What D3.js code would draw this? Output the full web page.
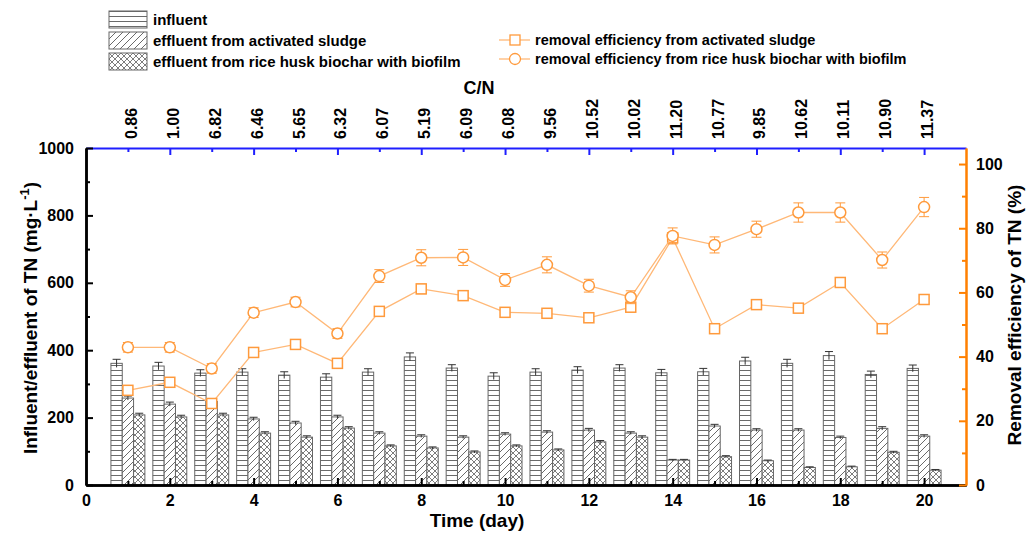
<!DOCTYPE html>
<html>
<head>
<meta charset="utf-8">
<script src="https://cdn.jsdelivr.net/npm/d3@7"></script>
<style>
  body { margin: 0; background: #fff; }
  svg { font-family: "Liberation Sans", Arial, sans-serif; }
  .tick text { font-weight: bold; fill: #000; }
</style>
</head>
<body>
<svg id="chart" width="1026" height="534"></svg>
<script>
// data
const days = d3.range(1, 21);
const cnLabels = ['0.86', '1.00', '6.82', '6.46', '5.65', '6.32', '6.07', '5.19', '6.09', '6.08',
  '9.56', '10.52', '10.02', '11.20', '10.77', '9.85', '10.62', '10.11', '10.90', '11.37'];
const influent = [361, 353, 332, 335, 326, 320, 335, 380, 347, 323, 335, 341, 347, 333, 336, 368, 361, 384, 328, 346];
const influentErr = [12, 11, 10, 10, 10, 10, 10, 12, 10, 10, 10, 10, 10, 10, 10, 11, 12, 12, 10, 10];
const effluentAS = [258, 240, 248, 196, 184, 202, 154, 145, 142, 151, 157, 163, 154, 74, 175, 163, 163, 141, 168, 145];
const effluentASErr = [6, 6, 6, 5, 5, 5, 4, 4, 4, 4, 4, 5, 4, 2, 5, 4, 4, 4, 5, 4];
const effluentBio = [208, 202, 208, 154, 142, 169, 116, 110, 98, 116, 104, 128, 142, 74, 84, 72, 52, 54, 97, 44];
const effluentBioErr = [5, 5, 5, 4, 4, 4, 3, 3, 3, 3, 3, 4, 4, 2, 3, 2, 2, 2, 3, 2];
const removalAS = [29.5, 32.0, 25.4, 41.3, 43.8, 37.9, 54.1, 61.1, 59.0, 53.8, 53.5, 52.1, 55.4, 77.0, 48.7, 56.2, 55.1, 63.1, 48.7, 57.8];
const removalASErr = [1.2, 1.2, 1.2, 1.2, 1.2, 1.2, 1.2, 1.5, 1.5, 1.2, 1.2, 1.2, 1.5, 1.5, 1.2, 1.2, 1.2, 1.5, 1.2, 1.5];
const removalBio = [42.9, 42.9, 36.3, 53.7, 57.0, 47.2, 65.1, 70.8, 70.9, 63.9, 68.6, 62.1, 58.5, 77.6, 74.8, 79.7, 84.9, 84.9, 70.1, 86.6];
const removalBioErr = [1.5, 1.5, 1.5, 1.5, 1.5, 1.5, 2, 2.5, 2.5, 2, 2.5, 2, 2, 2.5, 2.5, 2.5, 3, 3, 2.5, 3];
const xTicks = d3.range(0, 21, 2);
const leftTicks = [0, 200, 400, 600, 800, 1000];
const rightTicks = [0, 20, 40, 60, 80, 100];

const orange = '#ff9a3c';
const orangeLine = '#ffb877';

const svg = d3.select('#chart');
const plotL = 86, plotR = 966, plotT = 148, plotB = 485;

const x = d3.scaleLinear().domain([0, 21]).range([plotL, plotR]);
const yL = d3.scaleLinear().domain([0, 1000]).range([plotB, plotT]);
const yR = d3.scaleLinear().domain([0, 105]).range([plotB, plotT]);

// hatch patterns
const defs = svg.append('defs');
const pHoriz = defs.append('pattern').attr('id', 'p-horiz')
  .attr('patternUnits', 'userSpaceOnUse').attr('width', 8).attr('height', 5);
pHoriz.append('rect').attr('width', 8).attr('height', 5).attr('fill', '#fff');
pHoriz.append('line').attr('x1', 0).attr('x2', 8).attr('y1', 0.5).attr('y2', 0.5)
  .attr('stroke', '#444').attr('stroke-width', 0.8);

const pDiag = defs.append('pattern').attr('id', 'p-diag')
  .attr('patternUnits', 'userSpaceOnUse').attr('width', 7).attr('height', 7);
pDiag.append('rect').attr('width', 7).attr('height', 7).attr('fill', '#fff');
pDiag.append('path').attr('d', 'M-1,8 L8,-1 M-1,1 L1,-1 M6,8 L8,6')
  .attr('stroke', '#444').attr('stroke-width', 0.8);

const pCross = defs.append('pattern').attr('id', 'p-cross')
  .attr('patternUnits', 'userSpaceOnUse').attr('width', 6).attr('height', 6);
pCross.append('rect').attr('width', 6).attr('height', 6).attr('fill', '#fff');
pCross.append('path').attr('d', 'M-1,7 L7,-1 M-1,-1 L7,7')
  .attr('stroke', '#444').attr('stroke-width', 0.7);

// bars
const barW = x(0.27) - x(0);
const series = [
  { values: influent, err: influentErr, offset: -0.27, fill: 'url(#p-horiz)' },
  { values: effluentAS, err: effluentASErr, offset: 0, fill: 'url(#p-diag)' },
  { values: effluentBio, err: effluentBioErr, offset: 0.27, fill: 'url(#p-cross)' }
];

series.forEach(s => {
  const g = svg.append('g');
  g.selectAll('rect').data(days).join('rect')
    .attr('x', (d, i) => x(d + s.offset) - barW / 2)
    .attr('y', (d, i) => yL(s.values[i]))
    .attr('width', barW)
    .attr('height', (d, i) => yL(0) - yL(s.values[i]))
    .attr('fill', s.fill)
    .attr('stroke', '#666').attr('stroke-width', 1);
  const eb = g.selectAll('g').data(days).join('g').attr('stroke', '#333').attr('stroke-width', 1);
  eb.append('line')
    .attr('x1', (d) => x(d + s.offset)).attr('x2', (d) => x(d + s.offset))
    .attr('y1', (d, i) => yL(s.values[i] - s.err[i]))
    .attr('y2', (d, i) => yL(s.values[i] + s.err[i]));
  eb.append('line')
    .attr('x1', (d) => x(d + s.offset) - 4).attr('x2', (d) => x(d + s.offset) + 4)
    .attr('y1', (d, i) => yL(s.values[i] + s.err[i]))
    .attr('y2', (d, i) => yL(s.values[i] + s.err[i]));
});

// removal efficiency lines
const lineSeries = [
  { values: removalAS, err: removalASErr, marker: 'square' },
  { values: removalBio, err: removalBioErr, marker: 'circle' }
];
const line = d3.line().x(d => x(d[0])).y(d => yR(d[1]));

lineSeries.forEach(s => {
  const pts = days.map((d, i) => [d, s.values[i], s.err[i]]);
  const g = svg.append('g');
  g.append('path').datum(pts).attr('d', line)
    .attr('fill', 'none').attr('stroke', orangeLine).attr('stroke-width', 1.3);
  const eb = g.selectAll('g.eb').data(pts).join('g').attr('class', 'eb')
    .attr('stroke', orange).attr('stroke-width', 1);
  eb.append('line')
    .attr('x1', d => x(d[0])).attr('x2', d => x(d[0]))
    .attr('y1', d => yR(d[1] - d[2])).attr('y2', d => yR(d[1] + d[2]));
  [1, -1].forEach(sign => {
    eb.append('line')
      .attr('x1', d => x(d[0]) - 5).attr('x2', d => x(d[0]) + 5)
      .attr('y1', d => yR(d[1] + sign * d[2])).attr('y2', d => yR(d[1] + sign * d[2]));
  });
  if (s.marker === 'square') {
    g.selectAll('rect').data(pts).join('rect')
      .attr('x', d => x(d[0]) - 5).attr('y', d => yR(d[1]) - 5)
      .attr('width', 10).attr('height', 10)
      .attr('fill', '#fff').attr('stroke', orange).attr('stroke-width', 1.5);
  } else {
    g.selectAll('circle').data(pts).join('circle')
      .attr('cx', d => x(d[0])).attr('cy', d => yR(d[1])).attr('r', 5.5)
      .attr('fill', '#fff').attr('stroke', orange).attr('stroke-width', 1.5);
  }
});

// axes
const styleAxis = (g, color, width) => {
  g.select('.domain').attr('stroke', color).attr('stroke-width', width);
  g.selectAll('.tick line').attr('stroke', color).attr('stroke-width', 2);
};

// bottom
svg.append('g').attr('transform', `translate(0,${plotB})`)
  .call(d3.axisBottom(x).tickValues(d3.range(1, 21, 2)).tickSize(-4).tickFormat('').tickSizeOuter(0))
  .call(g => styleAxis(g, '#000', 2.5));
svg.append('g').attr('transform', `translate(0,${plotB})`)
  .call(d3.axisBottom(x).tickValues(xTicks).tickSize(-7).tickPadding(10).tickSizeOuter(0))
  .call(g => styleAxis(g, '#000', 2.5))
  .call(g => g.selectAll('.tick text').attr('font-size', 16))
  .call(g => g.selectAll('.tick').filter(d => d === 0).select('line').remove());

// top (C/N)
svg.append('g').attr('transform', `translate(0,${plotT})`)
  .call(d3.axisTop(x).tickValues(days).tickSize(0).tickFormat('').tickSizeOuter(0))
  .call(g => g.select('.domain').attr('stroke', '#1f1fff').attr('stroke-width', 2))
  .call(g => g.selectAll('.tick line')
    .attr('y2', d => d % 2 === 0 ? 7 : 4)
    .attr('stroke', '#1f1fff').attr('stroke-width', 2));
svg.append('g').selectAll('text').data(days).join('text')
  .attr('transform', d => `translate(${x(d) + 9},${plotT - 9}) rotate(-90)`)
  .attr('font-size', 16).attr('font-weight', 'bold')
  .text((d, i) => cnLabels[i]);
svg.append('text').attr('x', 479).attr('y', 94).attr('text-anchor', 'middle')
  .attr('font-size', 18).attr('font-weight', 'bold').text('C/N');

// left
svg.append('g').attr('transform', `translate(${plotL},0)`)
  .call(d3.axisLeft(yL).tickValues(d3.range(100, 1000, 200)).tickSize(-4).tickFormat('').tickSizeOuter(0))
  .call(g => styleAxis(g, '#000', 2.5));
svg.append('g').attr('transform', `translate(${plotL},0)`)
  .call(d3.axisLeft(yL).tickValues(leftTicks).tickFormat(d3.format('d')).tickSize(-7).tickPadding(12).tickSizeOuter(0))
  .call(g => styleAxis(g, '#000', 2.5))
  .call(g => g.selectAll('.tick text').attr('font-size', 16));

// right
svg.append('g').attr('transform', `translate(${plotR},0)`)
  .call(d3.axisRight(yR).tickValues(d3.range(10, 101, 20)).tickSize(-4).tickFormat('').tickSizeOuter(0))
  .call(g => styleAxis(g, '#ff8000', 2));
svg.append('g').attr('transform', `translate(${plotR},0)`)
  .call(d3.axisRight(yR).tickValues(rightTicks).tickSize(-7).tickPadding(10).tickSizeOuter(0))
  .call(g => styleAxis(g, '#ff8000', 2))
  .call(g => g.selectAll('.tick text').attr('font-size', 16));

// axis titles
const yTitle = svg.append('text')
  .attr('transform', 'translate(37,318) rotate(-90)')
  .attr('text-anchor', 'middle').attr('font-size', 19).attr('font-weight', 'bold');
yTitle.append('tspan').text('Influent/effluent of TN (mg·L');
yTitle.append('tspan').attr('dy', -8).attr('font-size', 13).text('-1');
yTitle.append('tspan').attr('dy', 8).text(')');

svg.append('text')
  .attr('transform', 'translate(1021,315) rotate(-90)')
  .attr('text-anchor', 'middle').attr('font-size', 19).attr('font-weight', 'bold')
  .text('Removal efficiency of TN (%)');

svg.append('text').attr('x', 477).attr('y', 527).attr('text-anchor', 'middle')
  .attr('font-size', 19).attr('font-weight', 'bold').text('Time (day)');

// legends
const barLegend = [
  { label: 'influent', fill: 'url(#p-horiz)' },
  { label: 'effluent from activated sludge', fill: 'url(#p-diag)' },
  { label: 'effluent from rice husk biochar with biofilm', fill: 'url(#p-cross)' }
];
const bl = svg.append('g').selectAll('g').data(barLegend).join('g')
  .attr('transform', (d, i) => `translate(109,${11 + i * 21})`);
bl.append('rect').attr('width', 38).attr('height', 17)
  .attr('fill', d => d.fill).attr('stroke', '#666');
bl.append('text').attr('x', 44).attr('y', 14)
  .attr('font-size', 15).attr('font-weight', 'bold').text(d => d.label);

const lineLegend = [
  { label: 'removal efficiency from activated sludge', marker: 'square' },
  { label: 'removal efficiency from rice husk biochar with biofilm', marker: 'circle' }
];
const ll = svg.append('g').selectAll('g').data(lineLegend).join('g')
  .attr('transform', (d, i) => `translate(499,${40 + i * 19})`);
ll.append('line').attr('x1', 0).attr('x2', 31).attr('stroke', orangeLine).attr('stroke-width', 1.3);
ll.filter(d => d.marker === 'square').append('rect')
  .attr('x', 11).attr('y', -5).attr('width', 10).attr('height', 10)
  .attr('fill', '#fff').attr('stroke', orange).attr('stroke-width', 1.3);
ll.filter(d => d.marker === 'circle').append('circle')
  .attr('cx', 16).attr('r', 5.5)
  .attr('fill', '#fff').attr('stroke', orange).attr('stroke-width', 1.3);
ll.append('text').attr('x', 36).attr('y', 5)
  .attr('font-size', 14.5).attr('font-weight', 'bold').text(d => d.label);
</script>
</body>
</html>
